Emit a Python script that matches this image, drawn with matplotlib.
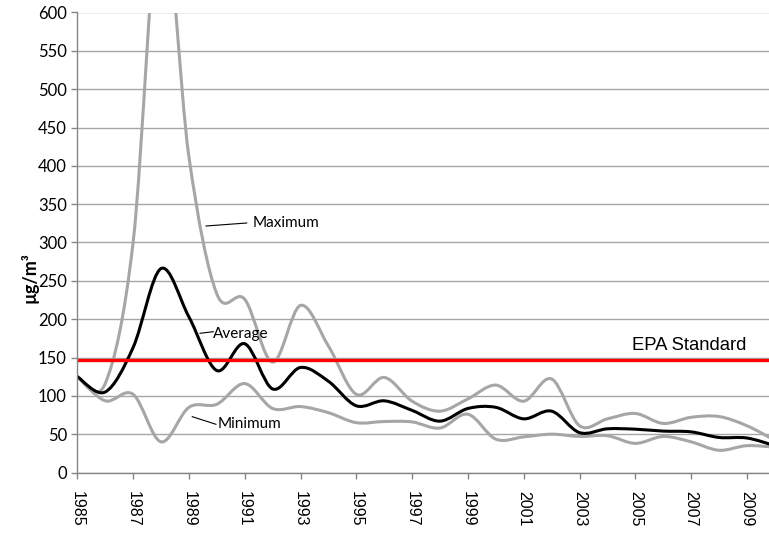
import matplotlib
matplotlib.use("Agg")
import matplotlib.pyplot as plt
from matplotlib.path import Path
from matplotlib.patches import PathPatch

years = list(range(1985, 2011))
maximum = [125, 116, 300, 740, 412, 233, 226, 144, 218, 165, 102, 124, 93,
           80, 96, 114, 93, 122, 61, 70, 77, 64, 72, 73, 61, 42]
average = [125, 105, 163, 266, 203, 133, 168, 109, 137, 119, 87, 93.5, 81,
           67, 83.5, 85, 70, 80, 52, 57, 56.5, 54, 53, 45.7, 45, 35]
minimum = [125, 93.5, 102, 40, 85, 89, 116, 83.5, 86, 78, 65, 66.5, 66,
           58, 76, 43.5, 46.5, 50, 47, 48, 38, 47, 40, 29, 35, 33]
epa_standard = 147
xtick_years = list(range(1985, 2010, 2))
yticks = list(range(0, 601, 50))


def smooth_path(xs, ys):
    pts = list(zip(xs, ys))
    n = len(pts)
    verts = [pts[0]]
    codes = [Path.MOVETO]
    for i in range(n - 1):
        p0 = pts[i - 1] if i > 0 else pts[i]
        p1 = pts[i]
        p2 = pts[i + 1]
        p3 = pts[i + 2] if i + 2 < n else pts[i + 1]
        c1 = (p1[0] + (p2[0] - p0[0]) / 6, p1[1] + (p2[1] - p0[1]) / 6)
        c2 = (p2[0] - (p3[0] - p1[0]) / 6, p2[1] - (p3[1] - p1[1]) / 6)
        verts += [c1, c2, p2]
        codes += [Path.CURVE4] * 3
    return Path(verts, codes)


W, H = 769, 535
fig = plt.figure(figsize=(W / 100, H / 100), dpi=100)
left, right, top, bottom = 77.3, 769, 12.5, 472.5
ax = fig.add_axes([left / W, 1 - bottom / H, (right - left) / W, (bottom - top) / H])

ax.set_xlim(1985, 1985 + (right - left) / 27.9)
ax.set_ylim(0, 600)

ax.set_yticks(yticks)
ax.set_xticks(xtick_years)
ax.set_xticklabels([str(y) for y in xtick_years], rotation=270,
                   fontfamily="Liberation Sans", fontsize=11.5)
ax.set_yticklabels([str(v) for v in yticks], fontfamily="Lato", fontsize=12)
ax.grid(axis="y", color="#a6a6a6", linewidth=1)
ax.set_axisbelow(True)
for s in ["top", "right"]:
    ax.spines[s].set_visible(False)
for s in ["left", "bottom"]:
    ax.spines[s].set_color("#868686")
    ax.spines[s].set_linewidth(1)
ax.tick_params(axis="both", direction="out", length=4.5, color="#868686", width=1)
ax.tick_params(axis="x", pad=9)
ax.tick_params(axis="y", pad=3)

for series, color, lw in [(maximum, "#a6a6a6", 2.2), (minimum, "#a6a6a6", 2.2),
                          (average, "#000000", 2.2)]:
    patch = PathPatch(smooth_path(years, series), facecolor="none",
                      edgecolor=color, linewidth=lw, capstyle="round",
                      joinstyle="round")
    ax.add_patch(patch)

ax.axhline(epa_standard, color="#ff0000", linewidth=2.4)


def fx(px):
    return px / W


def fy(py):
    return 1 - py / H


fig.add_artist(plt.Line2D([fx(206), fx(246.7)], [fy(226), fy(223)],
                          color="black", linewidth=0.8))
fig.text(fx(252.5), fy(222.7), "Maximum", fontfamily="Lato", fontsize=11,
         va="center", ha="left")
fig.add_artist(plt.Line2D([fx(200), fx(213.3)], [fy(333.3), fy(331.7)],
                          color="black", linewidth=0.8))
fig.text(fx(213.3), fy(334), "Average", fontfamily="Lato", fontsize=11,
         va="center", ha="left")
fig.add_artist(plt.Line2D([fx(192.3), fx(216)], [fy(416.7), fy(424.3)],
                          color="black", linewidth=0.8))
fig.text(fx(217.7), fy(424), "Minimum", fontfamily="Lato", fontsize=11,
         va="center", ha="left")
fig.text(fx(631.7), fy(345.5), "EPA Standard", fontfamily="Liberation Sans",
         fontsize=13.3, va="center", ha="left")

fig.text(fx(30), fy(278), "µg/m³", fontfamily="Lato", fontweight="bold",
         fontsize=13, rotation=90, va="center", ha="center")

fig.savefig("out.png", dpi=100)
